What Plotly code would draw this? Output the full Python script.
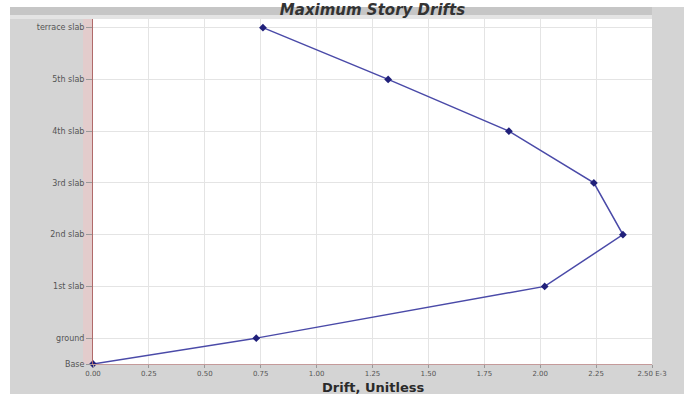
import plotly.graph_objects as go

stories = ["Base", "ground", "1st slab", "2nd slab", "3rd slab", "4th slab", "5th slab", "terrace slab"]
elevations = [0.0, 1.5, 4.5, 7.5, 10.5, 13.5, 16.5, 19.5]
drifts = [0.0, 0.73, 2.02, 2.37, 2.24, 1.86, 1.32, 0.76]
x_ticks = [0.0, 0.25, 0.5, 0.75, 1.0, 1.25, 1.5, 1.75, 2.0, 2.25, 2.5]
x_tick_labels = ["0.00", "0.25", "0.50", "0.75", "1.00", "1.25", "1.50", "1.75", "2.00", "2.25", "2.50 E-3"]

W, H = 684, 394
ml, mr, mt, mb = 93, 32, 19, 30
pw = W - ml - mr
ph = H - mt - mb
FONT = "DejaVu Sans"

fig = go.Figure()
fig.add_trace(go.Scatter(
    x=drifts, y=elevations, mode="lines+markers",
    line=dict(color="#4a4aa8", width=1.5),
    marker=dict(color="#20207a", size=6, symbol="diamond"),
    cliponaxis=False, showlegend=False,
))

shapes = [
    # white strip at the very top
    dict(type="rect", xref="paper", yref="paper", x0=-ml / pw - 0.01, x1=1 + mr / pw + 0.01,
         y0=1 + 12 / ph, y1=1 + mt / ph + 0.01, fillcolor="white", line_width=0, layer="below"),
    # white strip at the left edge
    dict(type="rect", xref="paper", yref="paper", x0=-ml / pw - 0.01, x1=-(ml - 10) / pw,
         y0=-mb / ph - 0.01, y1=1 + mt / ph + 0.01, fillcolor="white", line_width=0, layer="below"),
    # title band
    dict(type="rect", xref="paper", yref="paper", x0=-(ml - 10) / pw, x1=1,
         y0=1, y1=1 + 4 / ph, fillcolor="#e4e4e4", line_width=0, layer="below"),
    dict(type="rect", xref="paper", yref="paper", x0=-(ml - 10) / pw, x1=1,
         y0=1 + 4 / ph, y1=1 + 12 / ph, fillcolor="#c6c6c6", line_width=0, layer="below"),
    # pink band beside the y axis
    dict(type="rect", xref="paper", yref="paper", x0=-10 / pw, x1=0,
         y0=0, y1=1, fillcolor="#e3cccc", line_width=0, layer="below"),
]

fig.update_layout(
    width=W, height=H,
    margin=dict(l=ml, r=mr, t=mt, b=mb, autoexpand=False),
    paper_bgcolor="#d4d4d4",
    plot_bgcolor="white",
    shapes=shapes,
    title=dict(text="<b><i>Maximum Story Drifts</i></b>", x=(ml + pw / 2) / W, xanchor="center",
               y=1 - 10 / H, yanchor="middle", yref="container",
               font=dict(family=FONT, size=15, color="#333")),
    font=dict(family=FONT, color="#444"),
    annotations=[dict(text="<b>Drift, Unitless</b>", xref="paper", yref="paper",
                      x=0.5, y=-(387 - (H - mb)) / ph, xanchor="center", yanchor="middle",
                      showarrow=False, font=dict(family=FONT, size=13, color="#2a2a2a"))],
)

fig.update_xaxes(
    range=[0, 2.5], tickvals=x_ticks, ticktext=x_tick_labels,
    tickfont=dict(size=7, color="#555"),
    ticks="outside", ticklen=3, tickcolor="#999",
    showgrid=True, gridcolor="#e4e4e4", gridwidth=1,
    showline=True, linecolor="#c49a9a", linewidth=1,
    zeroline=False, automargin=False,
)
fig.update_yaxes(
    range=[0, 20.0], tickvals=elevations, ticktext=stories,
    tickfont=dict(size=8, color="#555"),
    ticks="outside", ticklen=6, tickcolor="#999",
    showgrid=True, gridcolor="#e4e4e4", gridwidth=1,
    showline=True, linecolor="#b06a6a", linewidth=1,
    zeroline=False, automargin=False,
)

fig.write_html("out.html", config={"displayModeBar": False})

with open("out.html", "r", encoding="utf-8") as f:
    html = f.read()
html = html.replace("<head>", "<head><style>html,body{margin:0;padding:0;overflow:hidden;}</style>", 1)
with open("out.html", "w", encoding="utf-8") as f:
    f.write(html)
